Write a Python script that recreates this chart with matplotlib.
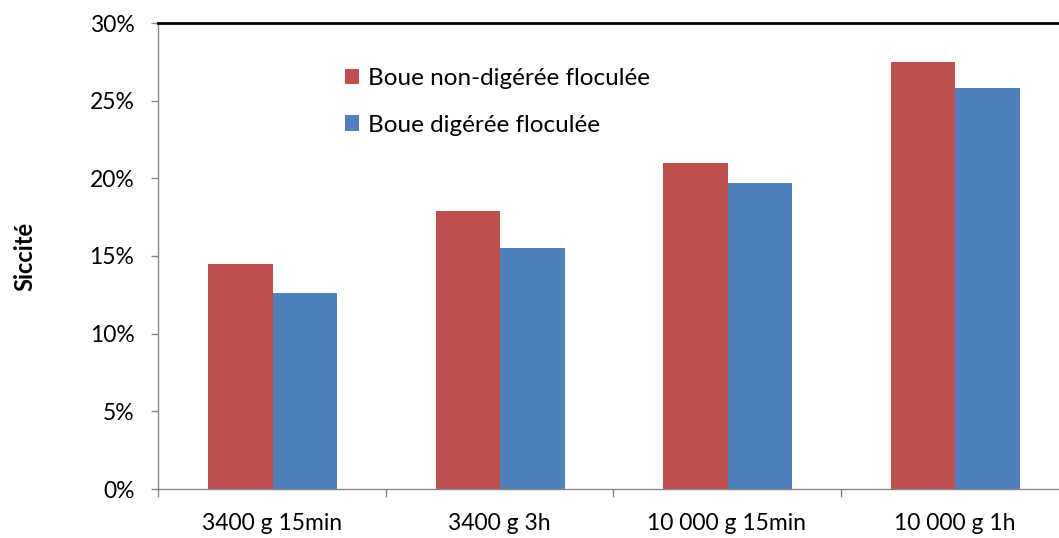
import matplotlib
matplotlib.use("Agg")
import matplotlib.pyplot as plt
import numpy as np
from matplotlib.ticker import FuncFormatter, FixedLocator

categories = ["3400 g 15min", "3400 g 3h", "10 000 g 15min", "10 000 g 1h"]
non_digeree = [14.5, 17.9, 21.0, 27.5]
digeree = [12.6, 15.5, 19.7, 25.8]
series_labels = ["Boue non-digérée floculée", "Boue digérée floculée"]

plt.rcParams['font.family'] = ['Lato', 'DejaVu Sans']

fig = plt.figure(figsize=(10.59, 5.38), dpi=100)
ax = fig.add_axes([158/1059, 1-489/538, 910/1059, 466/538])

x = np.arange(len(categories))
w = 0.284
red = "#C0504D"
blue = "#4F81BD"
b1 = ax.bar(x - w/2 + 0.005, non_digeree, w, color=red, label=series_labels[0])
b2 = ax.bar(x + w/2 + 0.005, digeree, w, color=blue, label=series_labels[1])

ax.set_xlim(-0.5, 3.5)
ax.set_ylim(0, 30)
ax.set_yticks(np.arange(0, 31, 5))
ax.yaxis.set_major_formatter(FuncFormatter(lambda v, p: f"{int(v)}%"))
ax.set_xticks(x)
ax.set_xticklabels(categories)
ax.xaxis.set_minor_locator(FixedLocator(np.arange(-0.5, 4, 1)))
ax.tick_params(axis='x', which='major', length=0, pad=17, labelsize=16.5)
ax.tick_params(axis='x', which='minor', length=6, color='#868686', width=1)
ax.tick_params(axis='y', length=5, color='#868686', width=1, labelsize=16.5, pad=12)

for s in ['left', 'bottom']:
    ax.spines[s].set_color('#868686')
    ax.spines[s].set_linewidth(1)
ax.spines['right'].set_visible(False)
ax.spines['top'].set_color('black')
ax.spines['top'].set_linewidth(2)

ax.set_ylabel("Siccité", fontsize=17, fontweight='bold', labelpad=38)

leg = ax.legend(handles=[b1, b2], loc='upper left', bbox_to_anchor=(0.181, 0.95),
                frameon=False, fontsize=17.5, handlelength=0.6, handleheight=0.6,
                handletextpad=0.35, labelspacing=1.05)

fig.savefig("out.png", dpi=100)
